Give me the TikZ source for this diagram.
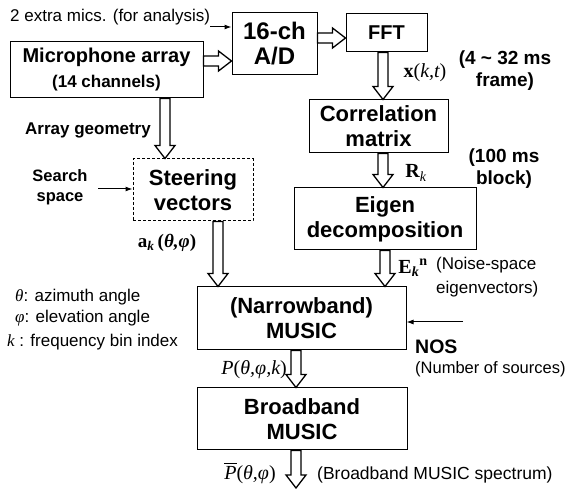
\documentclass[tikz,border=0pt]{standalone}
\usepackage{amsmath}
\usepackage{fontspec}
\setmainfont{Liberation Sans}
\newfontfamily\tms{Liberation Serif}
\usetikzlibrary{calc, arrows.meta}

\tikzset{
  block/.style={draw, line width=1pt, align=center, inner sep=0pt, font=\bfseries\fontsize{22}{25}\selectfont},
  lbl/.style={inner sep=0pt, align=center},
  feed/.style={line width=1pt, -{Latex[length=7pt,width=5pt]}},
  fat/.style={line width=1.3pt, fill=white, to path={
    let \p1=($(\tikztotarget)!13pt!(\tikztostart)$) in
    ($(\tikztostart)!5pt!90:(\tikztotarget)$) -- ($(\p1)!5pt!90:(\tikztotarget)$)
    -- ($(\p1)!10pt!90:(\tikztotarget)$) -- (\tikztotarget)
    -- ($(\p1)!10pt!-90:(\tikztotarget)$) -- ($(\p1)!5pt!-90:(\tikztotarget)$)
    -- ($(\tikztostart)!5pt!-90:(\tikztotarget)$) -- cycle}}
}

\begin{document}
\begin{tikzpicture}[x=1pt, y=-1pt]
		\useasboundingbox (0,0) rectangle (574,489);
		% processing blocks
		\node[block, minimum width=193pt, minimum height=56pt, font=\bfseries\fontsize{20}{25}\selectfont] (mic) at (106.5,70) {Microphone array\\{\fontsize{17}{22}\selectfont (14 channels)}};
		\node[block, minimum width=85pt, minimum height=62pt, font=\bfseries\fontsize{24}{25}\selectfont] (ad) at (274.5,44) {16-ch\\A/D};
		\node[block, minimum width=81pt, minimum height=38pt, font=\bfseries\fontsize{20}{24}\selectfont] (fft) at (386.5,33) {FFT};
		\node[block, minimum width=139pt, minimum height=53pt] (corr) at (378.5,126.5) {Correlation\\matrix};
		\node[block, minimum width=182pt, minimum height=62pt] (eig) at (385,219) {Eigen\\decomposition};
		\node[block, dash pattern=on 3pt off 2pt, minimum width=120pt, minimum height=62pt] (steer) at (193,190) {Steering\\vectors};
		\node[block, minimum width=209pt, minimum height=63pt] (nmus) at (301.5,318.5) {(Narrowband)\\MUSIC};
		\node[block, minimum width=210pt, minimum height=62pt] (bmus) at (302,419) {Broadband\\MUSIC};
		% hollow arrows
		\draw[fat] (mic.east |- 0,61) to (ad.west |- 0,61);
		\draw[fat] (ad.east |- 0,38) to (fft.west |- 0,38);
		\draw[fat] (fft.south -| 383,0) to (corr.north -| 383,0);
		\draw[fat] (corr.south -| 383,0) to (eig.north -| 383,0);
		\draw[fat] (eig.south -| 385,0) to (nmus.north -| 385,0);
		\draw[fat] (mic.south -| 165,0) to (steer.north -| 165,0);
		\draw[fat] (steer.south -| 218,0) to (nmus.north -| 218,0);
		\draw[fat] (nmus.south -| 296,0) to (bmus.north -| 296,0);
		\coordinate (out) at (296,488);
		\draw[fat] (bmus.south -| 296,0) to (out);
		% side inputs
		\coordinate (extra) at (210,27);
		\draw[feed] (extra) -- (ad.west |- extra);
		\coordinate (srch) at (98,189);
		\draw[feed] (srch) -- (steer.west |- srch);
		\coordinate (nos) at (463,322);
		\draw[feed] (nos) -- (nmus.east |- nos);
		% labels
		\node[lbl, anchor=west, font=\fontsize{17}{22}\selectfont] (extratxt) at (10,17) {2 extra mics. (for analysis)};
		\node[lbl, font=\bfseries\fontsize{17}{22}\selectfont] (geom) at (88,130) {Array geometry};
		\node[lbl, font=\bfseries\fontsize{16.5}{20}\selectfont] (space) at (60,187) {Search\\space};
		\node[lbl, font=\fontsize{19}{22}\selectfont] (avec) at (167,243) {\tms\bfseries a\textsubscript{\itshape k}\,(\itshape θ,φ\upshape)};
		\node[lbl, font=\fontsize{20}{22}\selectfont] (xkt) at (425,73) {\tms\bfseries x\mdseries(\itshape k,t\upshape)};
		\node[lbl, font=\bfseries\fontsize{19}{22}\selectfont] (frame) at (505,71) {(4 \textasciitilde{} 32 ms\\frame)};
		\node[lbl, font=\fontsize{20}{22}\selectfont] (rk) at (416,173) {\tms\bfseries R\textsubscript{\mdseries\itshape k}};
		\node[lbl, font=\bfseries\fontsize{19}{22}\selectfont] (block) at (504,169) {(100 ms\\block)};
		\node[lbl, font=\fontsize{20}{22}\selectfont] (ekn) at (413,268) {\tms\bfseries E\textsubscript{\itshape k}\textsuperscript{n}};
		\node[lbl, anchor=west, align=left, font=\fontsize{17}{24}\selectfont] (noise) at (436,277) {(Noise-space\\eigenvectors)};
		\node[lbl, anchor=west, font=\bfseries\fontsize{19.5}{22}\selectfont] (nostxt) at (415,347) {NOS};
		\node[lbl, anchor=west, font=\fontsize{16.5}{22}\selectfont] (numsrc) at (415,369) {(Number of sources)};
		\node[lbl, anchor=west, font=\fontsize{17}{22}\selectfont] (theta) at (15,297) {{\tms\itshape θ}: azimuth angle};
		\node[lbl, anchor=west, font=\fontsize{17}{22}\selectfont] (phi) at (15,318) {{\tms\itshape φ}: elevation angle};
		\node[lbl, anchor=west, font=\fontsize{17}{22}\selectfont] (kidx) at (7,342) {{\tms\itshape k} : frequency bin index};
		\node[lbl, anchor=east, font=\fontsize{20}{22}\selectfont] (pk) at (287,370) {\tms\itshape P\upshape(\itshape θ,φ,k\upshape)};
		\node[lbl, font=\fontsize{20}{22}\selectfont] (pbar) at (250,473) {$\overline{\hbox{\tms\itshape P}}$\tms(\itshape θ,φ\upshape)};
		\node[lbl, anchor=west, font=\fontsize{17.5}{22}\selectfont] (spec) at (317,475) {(Broadband MUSIC spectrum)};
		\end{tikzpicture}
\end{document}
